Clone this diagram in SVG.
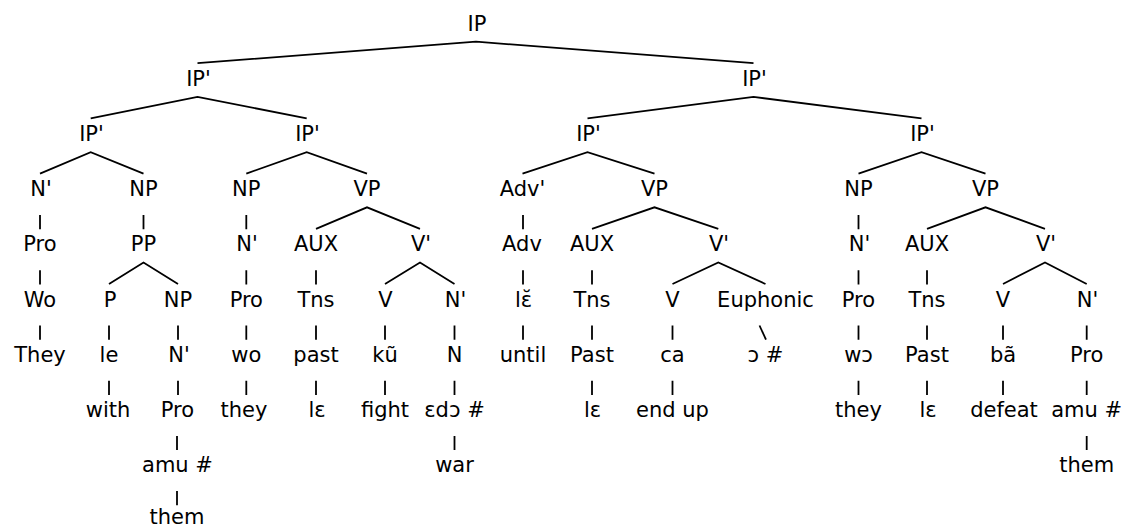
<svg xmlns="http://www.w3.org/2000/svg" width="1125" height="528" viewBox="0 0 1125 528">
<style>
.n{font-family:"DejaVu Sans",Verdana,sans-serif;font-size:21px;text-anchor:middle;fill:#000}
.e{stroke:#000;stroke-width:1.8;fill:none}
</style>
<rect width="1125" height="528" fill="#fff"/>
<g id="connectors" class="e">
<polyline points="197.5,63.2 476,41.7 753.5,63.2"/>
<polyline points="90.7,118.4 197.5,96.9 306.7,118.4"/>
<polyline points="587.5,118.4 753.5,96.9 921.5,118.4"/>
<polyline points="40,173.6 90.7,152.1 143.5,173.6"/>
<polyline points="246.3,173.6 306.7,152.1 367,173.6"/>
<polyline points="522.5,173.6 587.5,152.1 654.5,173.6"/>
<polyline points="858.5,173.6 921.5,152.1 985.5,173.6"/>
<polyline points="316,228.8 367,207.3 420,228.8"/>
<polyline points="592,228.8 654.5,207.3 718.3,228.8"/>
<polyline points="927,228.8 985.5,207.3 1045,228.8"/>
<polyline points="109,284 143.5,262.5 178,284"/>
<polyline points="385,284 420,262.5 454.5,284"/>
<polyline points="672.5,284 718.3,262.5 765.5,284"/>
<polyline points="1003,284 1045,262.5 1086.7,284"/>
<path d="M40,215.1V229.3M143.5,215.1V229.3M246.3,215.1V229.3M523,215.1V229.3M858.5,215.1V229.3"/>
<path d="M40,270.3V284.5M246.3,270.3V284.5M316,270.3V284.5M523,270.3V284.5M592,270.3V284.5M858.5,270.3V284.5M927,270.3V284.5"/>
<path d="M40,325.5V339.7M109,325.5V339.7M178,325.5V339.7M246.3,325.5V339.7M316,325.5V339.7M385,325.5V339.7M454.5,325.5V339.7M523,325.5V339.7M592,325.5V339.7M672.5,325.5V339.7M858.5,325.5V339.7M927,325.5V339.7M1003,325.5V339.7M1086.7,325.5V339.7"/>
<path d="M759.5,325.5L766,339.7"/>
<path d="M109,380.7V394.9M178,380.7V394.9M246.3,380.7V394.9M316,380.7V394.9M385,380.7V394.9M454.5,380.7V394.9M592,380.7V394.9M672.5,380.7V394.9M858.5,380.7V394.9M927,380.7V394.9M1003,380.7V394.9M1086.7,380.7V394.9"/>
<path d="M177,435.9V450.1M454.5,435.9V450.1M1086.7,435.9V450.1"/>
<path d="M177,491.1V505.3"/>
</g>
<g id="n-IP"><text class="n" x="477" y="30.5">IP</text></g>
<g id="n-IP1a"><text class="n" x="198.5" y="85.7">IP'</text></g>
<g id="n-IP1b"><text class="n" x="754.5" y="85.7">IP'</text></g>
<g id="n-IP2a"><text class="n" x="91.5" y="140.9">IP'</text></g>
<g id="n-IP2b"><text class="n" x="307.5" y="140.9">IP'</text></g>
<g id="n-IP2c"><text class="n" x="588.5" y="140.9">IP'</text></g>
<g id="n-IP2d"><text class="n" x="922.5" y="140.9">IP'</text></g>
<g id="n-N1"><text class="n" x="41" y="196.1">N'</text></g>
<g id="n-NP1"><text class="n" x="143.5" y="196.1">NP</text></g>
<g id="n-NP2"><text class="n" x="246.3" y="196.1">NP</text></g>
<g id="n-VP1"><text class="n" x="367" y="196.1">VP</text></g>
<g id="n-Adv1"><text class="n" x="522.5" y="196.1">Adv'</text></g>
<g id="n-VP2"><text class="n" x="654.5" y="196.1">VP</text></g>
<g id="n-NP3"><text class="n" x="858.5" y="196.1">NP</text></g>
<g id="n-VP3"><text class="n" x="985.5" y="196.1">VP</text></g>
<g id="n-Pro1"><text class="n" x="40" y="251.3">Pro</text></g>
<g id="n-PP"><text class="n" x="143.5" y="251.3">PP</text></g>
<g id="n-N2"><text class="n" x="247" y="251.3">N'</text></g>
<g id="n-AUX1"><text class="n" x="316" y="251.3">AUX</text></g>
<g id="n-Vb1"><text class="n" x="421" y="251.3">V'</text></g>
<g id="n-Adv"><text class="n" x="522" y="251.3">Adv</text></g>
<g id="n-AUX2"><text class="n" x="592" y="251.3">AUX</text></g>
<g id="n-Vb2"><text class="n" x="719" y="251.3">V'</text></g>
<g id="n-N3"><text class="n" x="859.5" y="251.3">N'</text></g>
<g id="n-AUX3"><text class="n" x="927" y="251.3">AUX</text></g>
<g id="n-Vb3"><text class="n" x="1046" y="251.3">V'</text></g>
<g id="n-Wo"><text class="n" x="40" y="306.5">Wo</text></g>
<g id="n-P"><text class="n" x="110" y="306.5">P</text></g>
<g id="n-NP4"><text class="n" x="178" y="306.5">NP</text></g>
<g id="n-Pro2"><text class="n" x="246.3" y="306.5">Pro</text></g>
<g id="n-Tns1"><text class="n" x="316" y="306.5">Tns</text></g>
<g id="n-V1"><text class="n" x="385.5" y="306.5">V</text></g>
<g id="n-N4"><text class="n" x="455.5" y="306.5">N'</text></g>
<g id="n-le1"><text class="n" x="523.5" y="306.5">lɛ̆</text></g>
<g id="n-Tns2"><text class="n" x="592" y="306.5">Tns</text></g>
<g id="n-V2"><text class="n" x="672.5" y="306.5">V</text></g>
<g id="n-Euph"><text class="n" x="765.5" y="306.5">Euphonic</text></g>
<g id="n-Pro3"><text class="n" x="858.5" y="306.5">Pro</text></g>
<g id="n-Tns3"><text class="n" x="927" y="306.5">Tns</text></g>
<g id="n-V3"><text class="n" x="1003" y="306.5">V</text></g>
<g id="n-N5"><text class="n" x="1087.5" y="306.5">N'</text></g>
<g id="n-They"><text class="n" x="40" y="361.7">They</text></g>
<g id="n-le"><text class="n" x="109" y="361.7">le</text></g>
<g id="n-N6"><text class="n" x="179" y="361.7">N'</text></g>
<g id="n-wo"><text class="n" x="246.3" y="361.7">wo</text></g>
<g id="n-past"><text class="n" x="316" y="361.7">past</text></g>
<g id="n-ku"><text class="n" x="385" y="361.7">kũ</text></g>
<g id="n-N7"><text class="n" x="454.5" y="361.7">N</text></g>
<g id="n-until"><text class="n" x="523" y="361.7">until</text></g>
<g id="n-Past1"><text class="n" x="592" y="361.7">Past</text></g>
<g id="n-ca"><text class="n" x="672.5" y="361.7">ca</text></g>
<g id="n-o"><text class="n" x="765.5" y="361.7">ɔ #</text></g>
<g id="n-wo2"><text class="n" x="858.5" y="361.7">wɔ</text></g>
<g id="n-Past2"><text class="n" x="927" y="361.7">Past</text></g>
<g id="n-ba"><text class="n" x="1003" y="361.7">bã</text></g>
<g id="n-Pro4"><text class="n" x="1086.7" y="361.7">Pro</text></g>
<g id="n-with"><text class="n" x="108" y="416.9">with</text></g>
<g id="n-Pro5"><text class="n" x="177.5" y="416.9">Pro</text></g>
<g id="n-they1"><text class="n" x="244" y="416.9">they</text></g>
<g id="n-le2"><text class="n" x="317" y="416.9">lɛ</text></g>
<g id="n-fight"><text class="n" x="385" y="416.9">fight</text></g>
<g id="n-edo"><text class="n" x="454.5" y="416.9">ɛdɔ #</text></g>
<g id="n-le3"><text class="n" x="592.5" y="416.9">lɛ</text></g>
<g id="n-endup"><text class="n" x="672.5" y="416.9">end up</text></g>
<g id="n-they2"><text class="n" x="858.5" y="416.9">they</text></g>
<g id="n-le4"><text class="n" x="928" y="416.9">lɛ</text></g>
<g id="n-defeat"><text class="n" x="1004" y="416.9">defeat</text></g>
<g id="n-amu1"><text class="n" x="1086.7" y="416.9">amu #</text></g>
<g id="n-amu2"><text class="n" x="177.5" y="472.1">amu #</text></g>
<g id="n-war"><text class="n" x="454.5" y="472.1">war</text></g>
<g id="n-them1"><text class="n" x="1086.7" y="472.1">them</text></g>
<g id="n-them2"><text class="n" x="177" y="523.5">them</text></g>
</svg>
